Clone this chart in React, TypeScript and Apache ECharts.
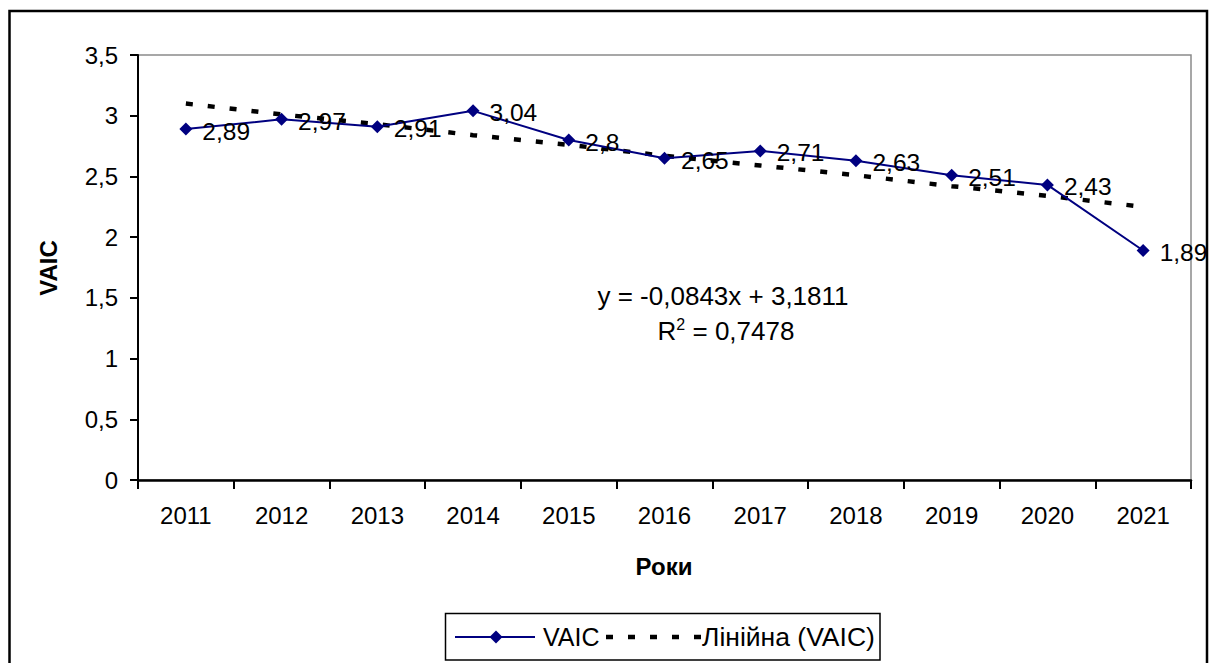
import React, { useEffect, useRef } from "react";
import * as echarts from "echarts";

const years = ["2011", "2012", "2013", "2014", "2015", "2016", "2017", "2018", "2019", "2020", "2021"];
const vaic = [2.89, 2.97, 2.91, 3.04, 2.8, 2.65, 2.71, 2.63, 2.51, 2.43, 1.89];
const trend = [3.1, 3.01, 2.93, 2.84, 2.76, 2.67, 2.59, 2.51, 2.42, 2.34, 2.25];
const seriesNames = ["VAIC", "Лінійна (VAIC)"];
const equationLine1 = "y = -0,0843x + 3,1811";
const r2Value = "0,7478";
const xTitle = "Роки";
const yTitle = "VAIC";

const FONT = "Liberation Sans, Arial, sans-serif";
const NAVY = "#000080";
const comma = (v: number | string) => String(v).replace(".", ",");

export default function App() {
  const ref = useRef<HTMLDivElement>(null);
  useEffect(() => {
    if (!ref.current) return;
    const chart = echarts.init(ref.current, undefined, { renderer: "svg" });
    chart.setOption({
      animation: false,
      backgroundColor: "#ffffff",
      textStyle: { fontFamily: FONT, color: "#000" },
      grid: {
        left: 138,
        top: 55,
        width: 1053,
        height: 425,
        show: true,
        borderColor: "#8a8a8a",
        borderWidth: 1.5,
        backgroundColor: "transparent",
      },
      xAxis: {
        type: "category",
        data: years,
        boundaryGap: true,
        axisLine: { lineStyle: { color: "#000", width: 2.5 } },
        axisTick: { show: true, length: 9, lineStyle: { color: "#000", width: 2 } },
        axisLabel: { color: "#000", fontSize: 24, fontFamily: FONT, margin: 23 },
        splitLine: { show: false },
      },
      yAxis: {
        type: "value",
        min: 0,
        max: 3.5,
        interval: 0.5,
        axisLine: { show: true, lineStyle: { color: "#000", width: 2 } },
        axisTick: { show: true, length: 8, lineStyle: { color: "#000", width: 2 } },
        axisLabel: {
          color: "#000",
          fontSize: 24,
          fontFamily: FONT,
          margin: 20,
          formatter: (v: number) => comma(v),
        },
        splitLine: { show: false },
      },
      series: [
        {
          name: seriesNames[0],
          type: "line",
          data: vaic,
          symbol: "diamond",
          symbolSize: 13,
          itemStyle: { color: NAVY },
          lineStyle: { color: NAVY, width: 2 },
          label: {
            show: true,
            position: "right",
            distance: 10,
            offset: [0, 2],
            fontSize: 24.5,
            fontFamily: FONT,
            color: "#000",
            formatter: (p: any) => comma(p.value),
          },
          z: 3,
        },
        {
          name: seriesNames[1],
          type: "line",
          data: trend,
          symbol: "none",
          itemStyle: { color: "#000" },
          lineStyle: { color: "#000", width: 4.5, type: [7, 15], cap: "butt" },
          z: 2,
        },
      ],
      graphic: [
        {
          type: "rect",
          shape: { x: 9.5, y: 11, width: 1197.5, height: 700 },
          style: { fill: "none", stroke: "#000", lineWidth: 2.5 },
          silent: true,
          z: 10,
        },
        {
          type: "text",
          x: 664,
          y: 566,
          style: {
            text: xTitle,
            fontSize: 24,
            fontWeight: "bold",
            fontFamily: FONT,
            fill: "#000",
            align: "center",
            verticalAlign: "middle",
          },
        },
        {
          type: "text",
          x: 48,
          y: 268,
          rotation: Math.PI / 2,
          style: {
            text: yTitle,
            fontSize: 24,
            fontWeight: "bold",
            fontFamily: FONT,
            fill: "#000",
            align: "center",
            verticalAlign: "middle",
          },
        },
        {
          type: "text",
          x: 723,
          y: 296,
          style: {
            text: equationLine1,
            fontSize: 26,
            fontFamily: FONT,
            fill: "#000",
            align: "center",
            verticalAlign: "middle",
          },
        },
        {
          type: "text",
          x: 726,
          y: 331,
          style: {
            text: "{n|R}{s|2}{n| = " + r2Value + "}",
            align: "center",
            verticalAlign: "middle",
            rich: {
              n: { fontSize: 26, fontFamily: FONT, fill: "#000", color: "#000" },
              s: { fontSize: 16, fontFamily: FONT, fill: "#000", color: "#000", padding: [0, 0, 14, 0] },
            },
          },
        },
        {
          type: "group",
          children: [
            {
              type: "rect",
              shape: { x: 445.5, y: 613.5, width: 434.5, height: 46.5 },
              style: { fill: "#fff", stroke: "#000", lineWidth: 1.5 },
            },
            {
              type: "line",
              shape: { x1: 455, y1: 637, x2: 535, y2: 637 },
              style: { stroke: NAVY, lineWidth: 2 },
            },
            {
              type: "polygon",
              shape: { points: [[496, 630.5], [502.5, 637], [496, 643.5], [489.5, 637]] },
              style: { fill: NAVY },
            },
            {
              type: "text",
              x: 543,
              y: 637,
              style: {
                text: seriesNames[0],
                fontSize: 25,
                fontFamily: FONT,
                fill: "#000",
                align: "left",
                verticalAlign: "middle",
              },
            },
            {
              type: "line",
              shape: { x1: 606, y1: 637, x2: 701, y2: 637 },
              style: { stroke: "#000", lineWidth: 4.5, lineDash: [7, 15] },
            },
            {
              type: "text",
              x: 702,
              y: 637,
              style: {
                text: seriesNames[1],
                fontSize: 26.5,
                fontFamily: FONT,
                fill: "#000",
                align: "left",
                verticalAlign: "middle",
              },
            },
          ],
        },
      ],
    });
    return () => chart.dispose();
  }, []);
  return (
    <div
      ref={ref}
      style={{ position: "fixed", left: 0, top: 0, width: 1209, height: 663, background: "#fff" }}
    />
  );
}
